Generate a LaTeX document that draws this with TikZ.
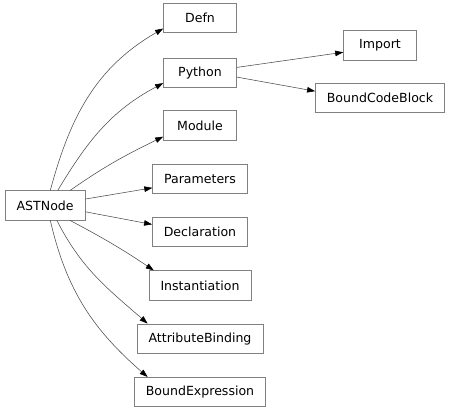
\documentclass[tikz,border=0pt]{standalone}
\usepackage{fontspec}
\setmainfont{DejaVu Sans}
\usetikzlibrary{arrows.meta}

\begin{document}
\begin{tikzpicture}[
  cls/.style={rectangle, draw=black!50, line width=0.6pt, minimum width=2.555cm, minimum height=1.03cm,
              inner xsep=0.4cm, font=\fontsize{12.5}{15}\selectfont},
  inherit/.style={-{Triangle[length=8pt, width=5.5pt, black]}, draw=black!70, line width=0.55pt},
]
\useasboundingbox (0,0) rectangle (15.785,-14.525);

% === CLASS BOXES ===
\node[cls] (astnode) at (1.58, -7.19) {ASTNode};

\node[cls] (defn)      at (7, -0.63)  {Defn};
\node[cls] (python)    at (7, -2.54)  {Python};
\node[cls] (module)    at (7, -4.39)  {Module};
\node[cls] (params)    at (7, -6.25)  {Parameters};
\node[cls] (decl)      at (7, -8.12)  {Declaration};
\node[cls] (inst)      at (7, -9.99)  {Instantiation};
\node[cls] (attrbind)  at (7, -11.85) {AttributeBinding};
\node[cls] (boundexpr) at (7, -13.72) {BoundExpression};

\node[cls] (import)    at (13.3, -1.58) {Import};
\node[cls] (codeblock) at (13.3, -3.43) {BoundCodeBlock};

% === INHERITANCE EDGES ===
\draw[inherit] (astnode.71) to[out=75, in=210] (defn.196);
\draw[inherit] (astnode.50) to[out=59, in=208] (python.196);
\draw[inherit] (astnode.31) to[out=35, in=206] (module.197);
\draw[inherit] (astnode.9) -- (params.191);
\draw[inherit] (astnode.-9) -- (decl.171);
\draw[inherit] (astnode.-31) to[out=-28, in=146] (inst.162);
\draw[inherit] (astnode.-52) to[out=-63, in=139] (attrbind.164);
\draw[inherit] (astnode.-71) to[out=-77, in=139] (boundexpr.164);

\draw[inherit] (python.8) -- (import.191);
\draw[inherit] (python.-7) -- (codeblock.174);
\end{tikzpicture}
\end{document}
